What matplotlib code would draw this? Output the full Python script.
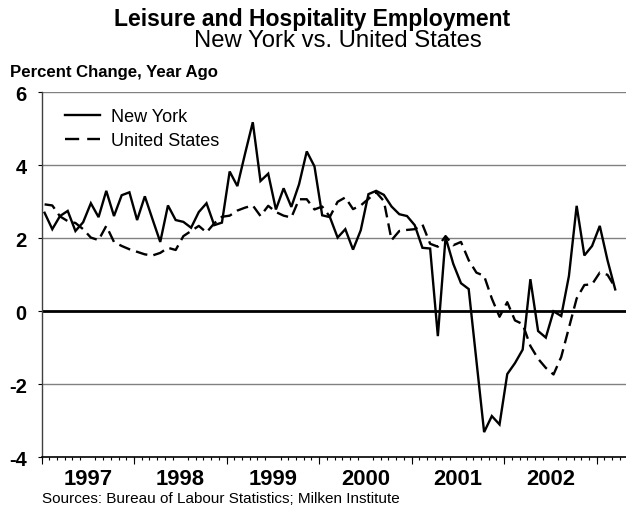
import numpy as np
import matplotlib
matplotlib.use("Agg")
import matplotlib.pyplot as plt
from matplotlib.lines import Line2D
from matplotlib.ticker import FixedLocator, NullFormatter

# ---- data (monthly, Jan 1997 - Mar 2003), % change year ago ----
new_york = [2.70, 2.25, 2.61, 2.75, 2.20, 2.44, 2.96, 2.58, 3.30, 2.61, 3.18, 3.26,
            2.50, 3.15, 2.52, 1.90, 2.90, 2.50, 2.45, 2.29, 2.72, 2.96, 2.36, 2.43,
            3.83, 3.43, 4.32, 5.18, 3.57, 3.77, 2.79, 3.37, 2.86, 3.48, 4.38, 3.97,
            2.63, 2.58, 2.02, 2.25, 1.69, 2.22, 3.21, 3.30, 3.19, 2.87, 2.66, 2.61,
            2.36, 1.74, 1.72, -0.68, 2.03, 1.30, 0.77, 0.61, -1.35, -3.31, -2.87, -3.10,
            -1.72, -1.42, -1.05, 0.88, -0.54, -0.72, 0.00, -0.13, 0.97, 2.89, 1.53, 1.79,
            2.34, 1.40, 0.60]
united_states = [2.93, 2.90, 2.60, 2.47, 2.42, 2.25, 2.02, 1.95, 2.34, 1.90, 1.79, 1.70,
                 1.63, 1.56, 1.53, 1.60, 1.74, 1.68, 2.06, 2.20, 2.34, 2.16, 2.41, 2.59,
                 2.62, 2.76, 2.84, 2.90, 2.61, 2.89, 2.72, 2.62, 2.57, 3.07, 3.07, 2.79,
                 2.87, 2.59, 3.00, 3.12, 2.80, 2.90, 3.08, 3.26, 3.02, 1.95, 2.20, 2.23,
                 2.25, 2.38, 1.85, 1.77, 2.06, 1.81, 1.90, 1.40, 1.06, 0.97, 0.35, -0.15,
                 0.25, -0.25, -0.35, -0.95, -1.30, -1.55, -1.73, -1.25, -0.45, 0.35, 0.72, 0.74,
                 1.06, 1.00, 0.65]
year_labels = ["1997", "1998", "1999", "2000", "2001", "2002"]
y_ticks = [-4, -2, 0, 2, 4, 6]

title = "Leisure and Hospitality Employment"
subtitle = "New York vs. United States"
ylabel = "Percent Change, Year Ago"
source = "Sources: Bureau of Labour Statistics; Milken Institute"

plt.rcParams['font.family'] = ['Liberation Sans', 'DejaVu Sans']

W, H = 626, 510
fig = plt.figure(figsize=(W / 100, H / 100), dpi=100)
ax = fig.add_axes([41.5 / W, 1 - 458.3 / H, (W - 41.5) / W, (458.3 - 93.3) / H])

months = np.arange(len(new_york)) + 0.4
dash = (0, (5.0, 2.6))
ax.plot(months, new_york, color='black', lw=1.7, solid_joinstyle='miter', zorder=4)
ax.plot(months, united_states, color='black', lw=1.7, ls=dash, zorder=3)

ax.set_xlim(0, 75.8)
ax.set_ylim(-4, 6)

# grid
for v in y_ticks:
    if v == -4:
        continue
    if v == 0:
        ax.axhline(v, color='black', lw=2.0, zorder=2)
    else:
        ax.axhline(v, color='#808080', lw=1.0, zorder=1)

for s in ['top', 'right']:
    ax.spines[s].set_visible(False)
ax.spines['left'].set_linewidth(1.0)
ax.spines['left'].set_color('#404040')
ax.spines['bottom'].set_linewidth(1.2)

ax.set_yticks(y_ticks)
ax.set_yticklabels([str(v) for v in y_ticks], fontsize=14.5, fontweight='bold')
ax.tick_params(axis='y', direction='out', length=3.2, width=0.8, pad=7.5)

n_years = len(year_labels)
ax.set_xticks([12 * k + 6 for k in range(n_years)])
ax.set_xticklabels(year_labels, fontsize=15.8, fontweight='bold')
ax.xaxis.set_minor_locator(FixedLocator(np.arange(0, 76, 1)))
ax.tick_params(axis='x', which='major', length=0, pad=8)
ax.tick_params(axis='x', which='minor', direction='out', length=2.4, width=0.8)

sec = ax.secondary_xaxis('bottom')
sec.set_xticks([12 * k for k in range(n_years + 1)])
sec.xaxis.set_major_formatter(NullFormatter())
sec.tick_params(axis='x', direction='out', length=4.8, width=0.8)
sec.spines['bottom'].set_visible(False)

# legend
handles = [Line2D([], [], color='black', lw=1.7),
           Line2D([], [], color='black', lw=1.7, ls=(0, (6.0, 3.4)))]
leg = ax.legend(handles, ["New York", "United States"], loc='upper left',
                bbox_to_anchor=(23 / (W - 41.5), 1 - 16 / 365), frameon=False,
                fontsize=13, handlelength=1.95, handletextpad=0.6,
                labelspacing=0.38, borderpad=0, borderaxespad=0)

fig.text(312 / W, 1 - 26 / H, title, ha='center', va='baseline',
         fontsize=16.6, fontweight='bold')
fig.text(338 / W, 1 - 47 / H, subtitle, ha='center', va='baseline', fontsize=17.2)
fig.text(10 / W, 1 - 77 / H, ylabel, ha='left', va='baseline',
         fontsize=12.1, fontweight='bold')
fig.text(42 / W, 1 - 503 / H, source, ha='left', va='baseline', fontsize=11)

fig.savefig("out.png", dpi=100)
